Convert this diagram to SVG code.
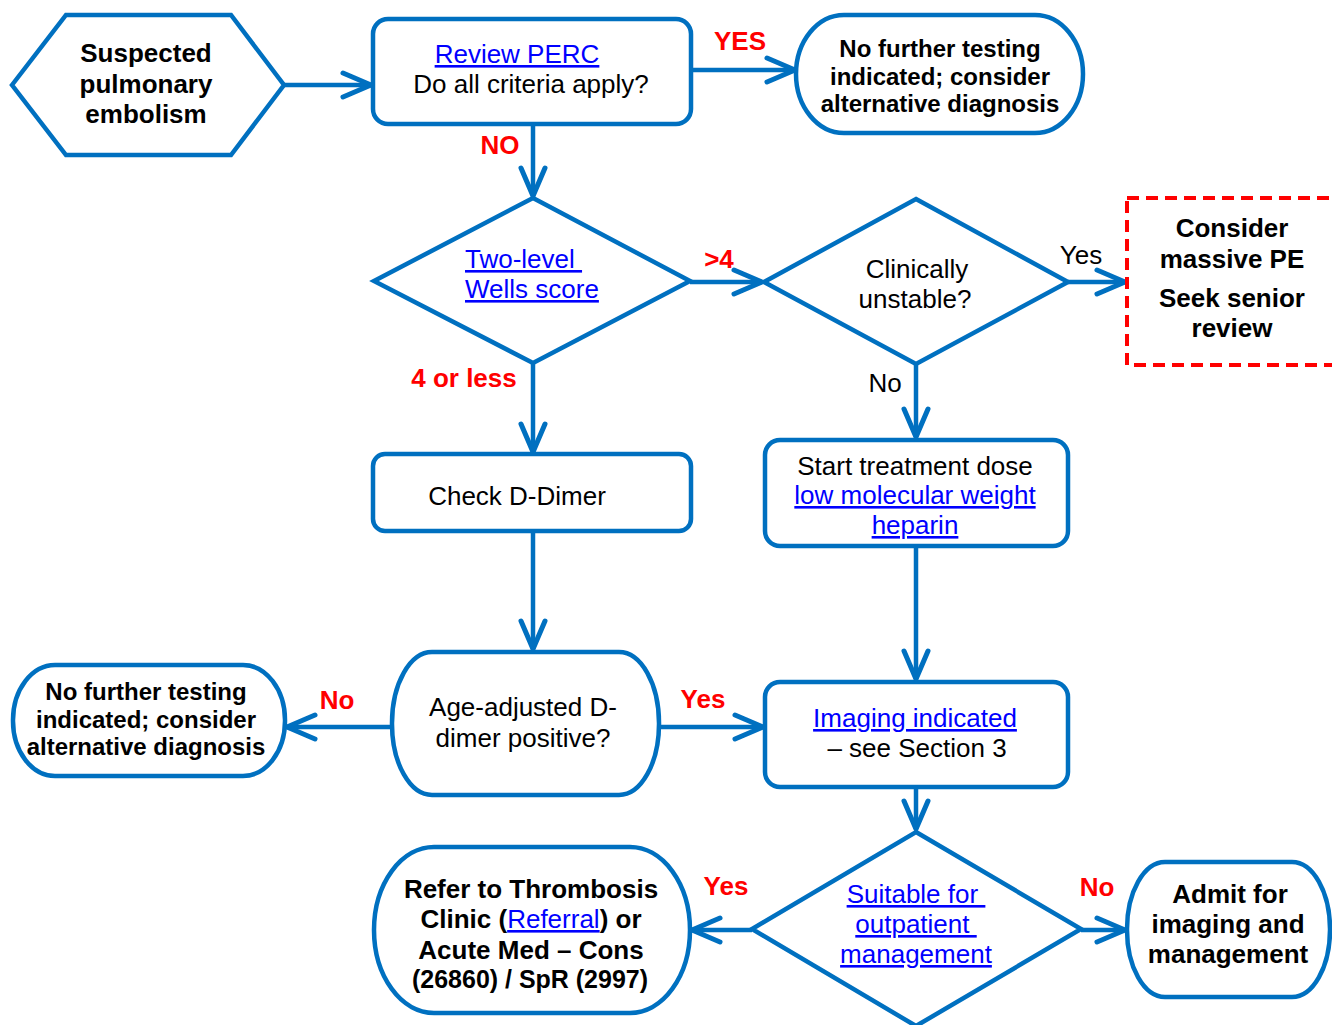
<svg xmlns="http://www.w3.org/2000/svg" width="1332" height="1025" viewBox="0 0 1332 1025">
<defs>
<marker id="ah" markerUnits="userSpaceOnUse" viewBox="-34 -18 40 36" refX="0" refY="0" markerWidth="40" markerHeight="36" orient="auto" overflow="visible">
<path d="M-28,-12 L0,0 L-28,12" fill="none" stroke="#0070C0" stroke-width="5" stroke-linecap="round" stroke-linejoin="round"/>
</marker>
</defs>
<style>
.s{fill:#fff;stroke:#0070C0;stroke-width:4.5}
.c{fill:none;stroke:#0070C0;stroke-width:4.5;marker-end:url(#ah)}
text{font-family:"Liberation Sans",Arial,sans-serif;font-size:26px;fill:#000;text-anchor:middle}
.b{font-weight:bold}
.t{font-weight:bold;font-size:24px}
.r{fill:#FF0000;font-weight:bold}
.l{fill:#0000FF;text-decoration:underline}
.pre{white-space:pre}
</style>
<rect width="1332" height="1025" fill="#fff"/>
<g id="connectors">
<path class="c" d="M284,85 L371,85"/>
<path class="c" d="M691,70 L795,70"/>
<path class="c" d="M533,125 L533,196"/>
<path class="c" d="M690,282 L762,282"/>
<path class="c" d="M1068,282 L1125,282"/>
<path class="c" d="M916,364 L916,437"/>
<path class="c" d="M533,363 L533,452"/>
<path class="c" d="M533,531 L533,649"/>
<path class="c" d="M392,727 L287,727"/>
<path class="c" d="M659,727 L763,727"/>
<path class="c" d="M916,546 L916,679"/>
<path class="c" d="M916,787 L916,829"/>
<path class="c" d="M752,930 L692,930"/>
<path class="c" d="M1081,930 L1125,930"/>
<text class="r" x="740" y="50">YES</text>
<text class="r" x="500" y="154">NO</text>
<text class="r" x="719" y="268">&gt;4</text>
<text x="1081" y="264">Yes</text>
<text x="885" y="392">No</text>
<text class="r" x="464" y="387">4 or less</text>
<text class="r" x="337" y="709">No</text>
<text class="r" x="703" y="708">Yes</text>
<text class="r" x="726" y="895">Yes</text>
<text class="r" x="1097" y="896">No</text>
</g>
<g id="start">
<polygon class="s" points="12,85 66,15 231,15 284,85 231,155 66,155"/>
<text class="b" x="146" y="62">Suspected</text>
<text class="b" x="146" y="93">pulmonary</text>
<text class="b" x="146" y="123">embolism</text>
</g>
<g id="perc">
<rect class="s" x="373" y="19" width="318" height="105" rx="15"/>
<text class="l" x="517" y="63">Review PERC</text>
<text x="531" y="93">Do all criteria apply?</text>
</g>
<g id="nofurther1">
<rect class="s" x="796" y="15" width="287" height="118" rx="48" ry="59"/>
<text class="t" x="940" y="57">No further testing</text>
<text class="t" x="940" y="85">indicated; consider</text>
<text class="t" x="940" y="112">alternative diagnosis</text>
</g>
<g id="wells">
<polygon class="s" points="533,198 690,281 533,363 374,281"/>
<text class="l pre" x="465" y="268" style="text-anchor:start">Two-level </text>
<text class="l" x="465" y="298" style="text-anchor:start">Wells score</text>
</g>
<g id="unstable">
<polygon class="s" points="916,199 1068,282 916,364 764,282"/>
<text x="917" y="278">Clinically</text>
<text x="915" y="308">unstable?</text>
</g>
<g id="massive">
<rect x="1127" y="198" width="230" height="167" fill="#fff" stroke="#FF0000" stroke-width="4" stroke-dasharray="12 7"/>
<text class="b" x="1232" y="237">Consider</text>
<text class="b" x="1232" y="268">massive PE</text>
<text class="b" x="1232" y="307">Seek senior</text>
<text class="b" x="1232" y="337">review</text>
</g>
<g id="ddimer">
<rect class="s" x="373" y="454" width="318" height="77" rx="12"/>
<text x="517" y="505">Check D-Dimer</text>
</g>
<g id="lmwh">
<rect class="s" x="765" y="440" width="303" height="106" rx="15"/>
<text x="915" y="475">Start treatment dose</text>
<text class="l" x="915" y="504">low molecular weight</text>
<text class="l" x="915" y="534">heparin</text>
</g>
<g id="ageadj">
<rect class="s" x="392" y="652" width="267" height="143" rx="40" ry="71"/>
<text x="523" y="716">Age-adjusted D-</text>
<text x="523" y="747">dimer positive?</text>
</g>
<g id="nofurther2">
<rect class="s" x="13" y="665" width="272" height="111" rx="42" ry="55"/>
<text class="t" x="146" y="700">No further testing</text>
<text class="t" x="146" y="728">indicated; consider</text>
<text class="t" x="146" y="755">alternative diagnosis</text>
</g>
<g id="imaging">
<rect class="s" x="765" y="682" width="303" height="105" rx="15"/>
<text class="l" x="915" y="727">Imaging indicated</text>
<text x="917" y="757">– see Section 3</text>
</g>
<g id="outpatient">
<polygon class="s" points="916,832 1081,929 916,1026 752,929"/>
<text class="l pre" x="916" y="903">Suitable for </text>
<text class="l pre" x="916" y="933">outpatient </text>
<text class="l" x="916" y="963">management</text>
</g>
<g id="refer">
<rect class="s" x="374" y="847" width="316" height="166" rx="60" ry="83"/>
<text class="b" x="531" y="898">Refer to Thrombosis</text>
<text class="b" x="531" y="928">Clinic (<tspan class="l" style="font-weight:normal">Referral</tspan>) or</text>
<text class="b" x="531" y="959">Acute Med – Cons</text>
<text class="b" x="530" y="988" textLength="236" lengthAdjust="spacingAndGlyphs">(26860) / SpR (2997)</text>
</g>
<g id="admit">
<rect class="s" x="1127" y="862" width="203" height="135" rx="38" ry="67"/>
<text class="b" x="1230" y="903">Admit for</text>
<text class="b" x="1228" y="933">imaging and</text>
<text class="b" x="1228" y="963">management</text>
</g>
</svg>
